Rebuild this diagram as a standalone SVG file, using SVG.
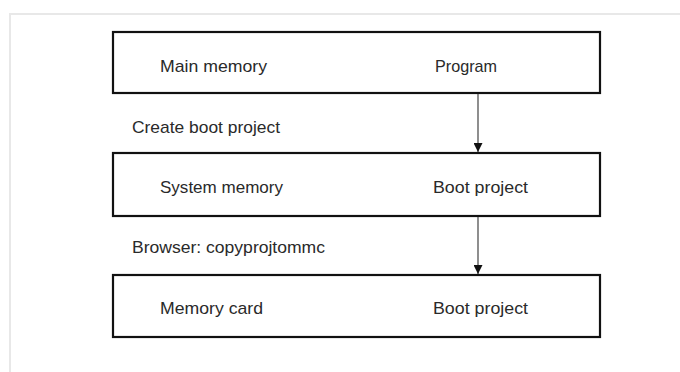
<svg xmlns="http://www.w3.org/2000/svg" width="680" height="372" viewBox="0 0 680 372">
<defs>
<style>
.box{fill:#fff;stroke:#111;stroke-width:2.2}
.t{font-family:"Liberation Sans",Arial,sans-serif;font-size:17px;fill:#2a2a2a}
.edge{stroke:#444;stroke-width:1.2;fill:none}
</style>
<marker id="ah" viewBox="0 0 10 10" refX="10" refY="5" markerWidth="11" markerHeight="9" markerUnits="userSpaceOnUse" orient="auto">
<path d="M0,0 L10,5 L0,10 Z" fill="#111"/>
</marker>
</defs>
<rect width="680" height="372" fill="#fff"/>
<rect x="10" y="14" width="690" height="380" fill="none" stroke="#e8e8e8" stroke-width="2"/>
<g id="main-memory">
<rect class="box" x="113" y="32" width="487" height="61"/>
<text class="t" x="160" y="72" textLength="107" lengthAdjust="spacingAndGlyphs">Main memory</text>
<text class="t" x="435" y="72" textLength="62" lengthAdjust="spacingAndGlyphs">Program</text>
</g>
<g id="system-memory">
<rect class="box" x="113" y="153" width="487" height="63"/>
<text class="t" x="160" y="193" textLength="123" lengthAdjust="spacingAndGlyphs">System memory</text>
<text class="t" x="433" y="193" textLength="95" lengthAdjust="spacingAndGlyphs">Boot project</text>
</g>
<g id="memory-card">
<rect class="box" x="113" y="275" width="487" height="62"/>
<text class="t" x="160" y="314" textLength="103" lengthAdjust="spacingAndGlyphs">Memory card</text>
<text class="t" x="433" y="314" textLength="95" lengthAdjust="spacingAndGlyphs">Boot project</text>
</g>
<g id="connectors">
<line class="edge" x1="478" y1="94" x2="478" y2="152" marker-end="url(#ah)"/>
<text class="t" x="132" y="133" textLength="148" lengthAdjust="spacingAndGlyphs">Create boot project</text>
<line class="edge" x1="478" y1="217" x2="478" y2="274" marker-end="url(#ah)"/>
<text class="t" x="132" y="253" textLength="193" lengthAdjust="spacingAndGlyphs">Browser: copyprojtommc</text>
</g>
</svg>
